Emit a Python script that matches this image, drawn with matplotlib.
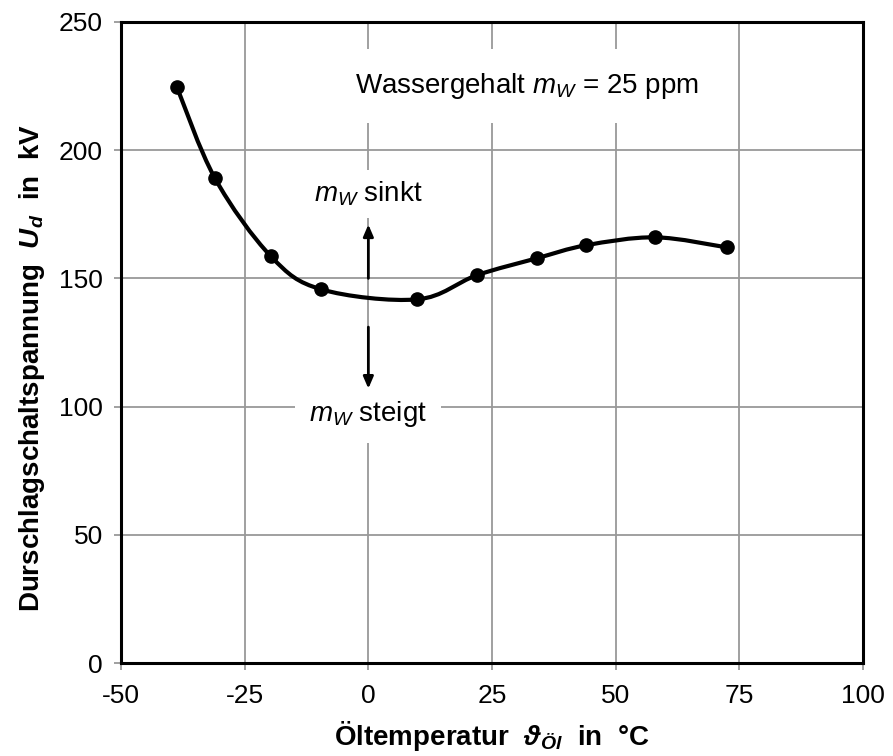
import numpy as np
import matplotlib
matplotlib.use('Agg')
import matplotlib.pyplot as plt
from matplotlib.path import Path
from matplotlib.patches import PathPatch

plt.rcParams['font.family'] = ['Liberation Sans', 'DejaVu Sans']
plt.rcParams['axes.unicode_minus'] = False
plt.rcParams['mathtext.fontset'] = 'custom'
plt.rcParams['mathtext.rm'] = 'Liberation Sans'
plt.rcParams['mathtext.it'] = 'Liberation Sans:italic'
plt.rcParams['mathtext.bf'] = 'Liberation Sans:bold'
plt.rcParams['mathtext.bfit'] = 'Liberation Sans:bold:italic'
plt.rcParams['mathtext.fallback'] = 'stixsans'

# data
temp = [-38.7, -31.0, -19.7, -9.5, 9.9, 21.9, 34.0, 44.0, 58.0, 72.4]
ud = [224.6, 189.0, 158.6, 145.7, 141.8, 151.2, 157.8, 162.9, 166.0, 162.1]

x_ticks = [-50, -25, 0, 25, 50, 75, 100]
y_ticks = [0, 50, 100, 150, 200, 250]

fig = plt.figure(figsize=(8.93, 7.56), dpi=100)
ax = fig.add_axes([0.1355, 0.123, 0.831, 0.848])

ax.set_xlim(-50, 100)
ax.set_ylim(0, 250)
ax.set_xticks(x_ticks)
ax.set_yticks(y_ticks)
ax.grid(True, color='#999999', linewidth=1.3)
ax.set_axisbelow(True)
ax.tick_params(labelsize=19, length=5, width=1.3, color='#999999')
ax.tick_params(axis='x', pad=10)
ax.tick_params(axis='y', pad=8)
for s in ax.spines.values():
    s.set_linewidth(2.2)
    s.set_color('black')


# smoothed line like a spreadsheet chart: cubic bezier through the points
def smooth_path(xs, ys, t=1 / 6):
    p = np.column_stack([xs, ys])
    verts = [p[0]]
    codes = [Path.MOVETO]
    n = len(p)
    for i in range(n - 1):
        p0 = p[i - 1] if i > 0 else p[i]
        p3 = p[i + 2] if i + 2 < n else p[i + 1]
        c1 = p[i] + (p[i + 1] - p0) * t
        c2 = p[i + 1] - (p3 - p[i]) * t
        verts += [c1, c2, p[i + 1]]
        codes += [Path.CURVE4] * 3
    return Path(verts, codes)


ax.add_patch(PathPatch(smooth_path(temp, ud), fill=False, lw=3, ec='black', zorder=3))
ax.plot(temp, ud, 'o', color='black', ms=9.5, zorder=4)

ax.text(32, 225, r'Wassergehalt $m_W$ = 25 ppm', fontsize=20,
        ha='center', va='center',
        bbox=dict(boxstyle='square,pad=0.8', fc='white', ec='none'), zorder=2)
ax.text(0, 183, r'$m_W$ sinkt', fontsize=20, ha='center', va='center',
        bbox=dict(boxstyle='square,pad=0.35', fc='white', ec='none'), zorder=2)
ax.text(0, 97, r'$m_W$ steigt', fontsize=20, ha='center', va='center',
        bbox=dict(boxstyle='square,pad=0.5', fc='white', ec='none'), zorder=2)

arrow = dict(arrowstyle='-|>,head_length=0.7,head_width=0.3', color='black', lw=2,
             shrinkA=0, shrinkB=0)
ax.annotate('', xy=(0, 171), xytext=(0, 150), arrowprops=arrow, zorder=3)
ax.annotate('', xy=(0, 107), xytext=(0, 131), arrowprops=arrow, zorder=3)

ax.set_xlabel(r'Öltemperatur  $\mathbfit{\vartheta}_{\mathbfit{Öl}}$  in  °C',
              fontsize=20, fontweight='bold', labelpad=8)
ax.set_ylabel(r'Durschlagschaltspannung  $\mathbfit{U}_{\mathbfit{d}}$  in  kV',
              fontsize=20, fontweight='bold')
ax.yaxis.set_label_coords(-0.1, 0.46)

fig.savefig('out.png', dpi=100)
